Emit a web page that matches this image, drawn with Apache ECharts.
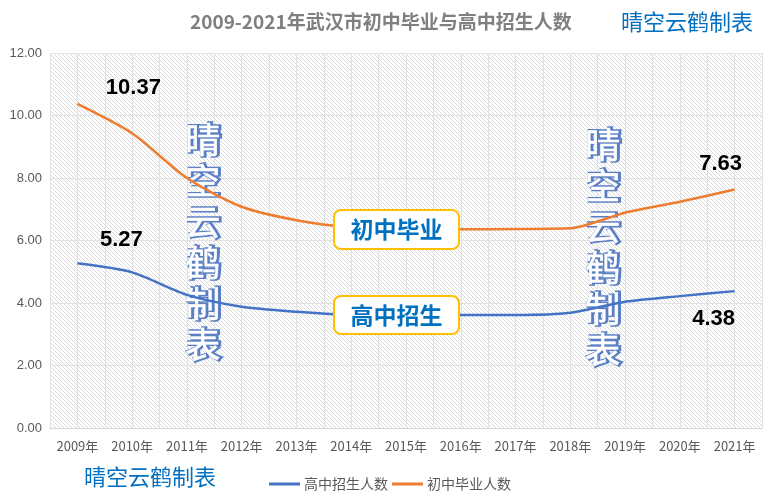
<!DOCTYPE html>
<html><head><meta charset="utf-8">
<script src="https://cdn.jsdelivr.net/npm/echarts@6/dist/echarts.min.js"></script>
<style>html,body{margin:0;padding:0;background:#fff}#c{width:775px;height:500px}</style>
</head><body><div id="c"></div>
<script>
const categories = ['2009年','2010年','2011年','2012年','2013年','2014年','2015年','2016年','2017年','2018年','2019年','2020年','2021年'];
const seniorEnroll = [5.27, 4.98, 4.26, 3.88, 3.72, 3.62, 3.60, 3.62, 3.62, 3.69, 4.04, 4.22, 4.38];
const juniorGrad = [10.37, 9.43, 8.00, 7.08, 6.65, 6.42, 6.36, 6.36, 6.37, 6.39, 6.89, 7.24, 7.63];
const yTicks = [0, 2, 4, 6, 8, 10, 12];
const seriesNames = ['高中招生人数', '初中毕业人数'];

const pc = document.createElement('canvas');
pc.width = 4; pc.height = 4;
const g = pc.getContext('2d');
g.strokeStyle = '#dadada'; g.lineWidth = 1;
g.beginPath(); g.moveTo(-1,-1); g.lineTo(5,5); g.stroke();
g.beginPath(); g.moveTo(3,-1); g.lineTo(5,1); g.stroke();
g.beginPath(); g.moveTo(-1,3); g.lineTo(1,5); g.stroke();

const font = '"Noto Sans CJK SC", "Microsoft YaHei", sans-serif';
function lbl(v, pos, off) {
  return {value: v,
    label: {show: true, position: pos, offset: off, formatter: v.toFixed(2),
    fontSize: 22, fontWeight: 'bold', color: '#000', fontFamily: 'Liberation Sans, Arial, sans-serif'}};
}
const blueData = seniorEnroll.map((v, i) => i === 0 ? lbl(v, 'top', [44, -7]) : i === seniorEnroll.length - 1 ? lbl(v, 'bottom', [-21, 12]) : v);
const orangeData = juniorGrad.map((v, i) => i === 0 ? lbl(v, 'top', [56, 0]) : i === juniorGrad.length - 1 ? lbl(v, 'top', [-14, -10]) : v);

function wm(cx, cy) {
  const txt = '晴\n空\n云\n鹤\n制\n表';
  const base = {type: 'text', left: cx - 18, top: cy - 123};
  return [
    Object.assign({}, base, {z: 1, style: {text: txt, font: '35px ' + font, lineHeight: 41, fill: '#5a7fc4', stroke: '#5a7fc4', lineWidth: 3.5, textAlign: 'left'}}),
    Object.assign({}, base, {z: 2, style: {text: txt, font: '35px ' + font, lineHeight: 41, fill: '#ffffff', stroke: '#ffffff', lineWidth: 0.6, textAlign: 'left'}})
  ];
}
function box(y, h, text) {
  return {type: 'group', left: 333, top: y, z: 100, zlevel: 1, children: [
    {type: 'rect', z: 100, zlevel: 1, shape: {x: 0, y: 0, width: 125, height: h, r: 7}, style: {fill: '#fff', stroke: '#FFC000', lineWidth: 2}},
    {type: 'text', z: 101, zlevel: 1, x: 62.5, y: h / 2, style: {text: text, font: 'bold 23px ' + font, fill: '#0070C0', textAlign: 'center', textVerticalAlign: 'middle'}}
  ]};
}

const chart = echarts.init(document.getElementById('c'));
chart.setOption({
  animation: false,
  backgroundColor: '#fff',
  title: [
    {text: '2009-2021年武汉市初中毕业与高中招生人数', left: 185, top: 7, textStyle: {fontSize: 19, fontWeight: 'bold', color: '#7f7f7f', fontFamily: font}},
    {text: '晴空云鹤制表', left: 616, top: 6, textStyle: {fontSize: 22, fontWeight: 'normal', color: '#0070C0', fontFamily: font}},
    {text: '晴空云鹤制表', left: 79, top: 461, textStyle: {fontSize: 22, fontWeight: 'normal', color: '#0070C0', fontFamily: font}}
  ],
  legend: {
    data: seriesNames, left: 264, top: 472, icon: 'rect', itemWidth: 31, itemHeight: 3, itemGap: 4,
    textStyle: {fontSize: 14, color: '#595959', fontFamily: font, padding: [0, 0, 0, -1]}
  },
  grid: {left: 50, right: 13, top: 53, bottom: 72, show: true, borderWidth: 0,
    backgroundColor: {image: pc, repeat: 'repeat'}},
  xAxis: [
    {type: 'category', data: categories, boundaryGap: true,
      axisLine: {lineStyle: {color: '#d9d9d9'}}, axisTick: {show: false},
      axisLabel: {color: '#595959', fontSize: 13, margin: 12, fontFamily: font}, splitLine: {show: false}},
    {type: 'value', min: 0, max: 26, interval: 1, position: 'bottom', show: true,
      axisLine: {show: false}, axisTick: {show: false}, axisLabel: {show: false},
      splitLine: {show: true, lineStyle: {color: '#e2e2e2', width: 1}}}
  ],
  yAxis: {type: 'value', min: yTicks[0], max: yTicks[yTicks.length - 1], interval: 2,
    axisLine: {show: false}, axisTick: {show: false},
    axisLabel: {color: '#595959', fontSize: 13, margin: 8, fontFamily: 'Liberation Sans, Arial, sans-serif', formatter: v => v.toFixed(2)},
    splitLine: {lineStyle: {color: '#e2e2e2'}}},
  series: [
    {name: seriesNames[0], type: 'line', data: blueData, smooth: 0.25, symbol: 'circle', symbolSize: 0, showSymbol: true, z: 10, zlevel: 1,
      lineStyle: {color: '#4472C4', width: 2.5}, itemStyle: {color: '#4472C4'}},
    {name: seriesNames[1], type: 'line', data: orangeData, smooth: 0.25, symbol: 'circle', symbolSize: 0, showSymbol: true, z: 10, zlevel: 1,
      lineStyle: {color: '#ED7D31', width: 2.5}, itemStyle: {color: '#ED7D31'}}
  ],
  graphic: [].concat(wm(203, 242), wm(603, 247), [box(209, 39, '初中毕业'), box(295, 38, '高中招生')])
});
</script></body></html>
